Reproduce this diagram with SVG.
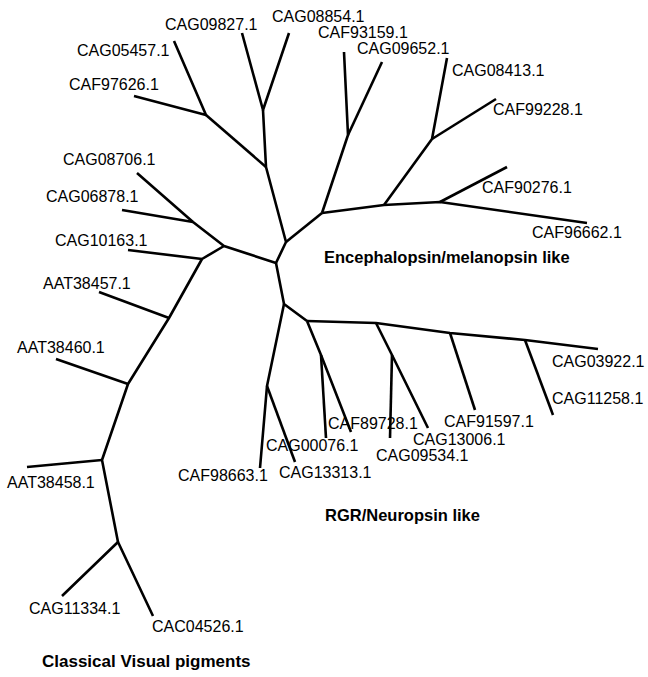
<svg xmlns="http://www.w3.org/2000/svg" width="648" height="677" viewBox="0 0 648 677">
<style>
.b{fill:none;stroke:#000;stroke-width:2.6;stroke-linejoin:round;stroke-linecap:butt}
.l{font-family:"Liberation Sans",Arial,sans-serif;font-size:16px;fill:#000}
.g{font-family:"Liberation Sans",Arial,sans-serif;font-size:16.5px;font-weight:bold;fill:#000}
</style>
<rect width="648" height="677" fill="#fff"/>
<g id="connectors">
<polyline class="b" points="242,33 263,110 289,33"/>
<polyline class="b" points="263,110 266,167 286,242 276,263"/>
<polyline class="b" points="174,41 206,115 134,96"/>
<polyline class="b" points="206,115 266,167"/>
<polyline class="b" points="286,242 322,213"/>
<polyline class="b" points="137,173 193,222 224,246 276,263"/>
<polyline class="b" points="122,210 193,222"/>
<polyline class="b" points="224,246 202,259 169,318 128,384 102,460 118,542"/>
<polyline class="b" points="128,250 202,259"/>
<polyline class="b" points="99,292 169,318"/>
<polyline class="b" points="56,359 128,384"/>
<polyline class="b" points="27,467 102,460"/>
<polyline class="b" points="62,596 118,542 153,616"/>
<polyline class="b" points="322,213 348,135 344,52"/>
<polyline class="b" points="348,135 382,62"/>
<polyline class="b" points="322,213 384,205 440,202 587,223"/>
<polyline class="b" points="384,205 432,139 447,58"/>
<polyline class="b" points="432,139 496,99"/>
<polyline class="b" points="440,202 507,167"/>
<polyline class="b" points="276,263 284,304 307,321"/>
<polyline class="b" points="284,304 267,386 260,468"/>
<polyline class="b" points="267,386 295,462"/>
<polyline class="b" points="307,321 321,355 351,432"/>
<polyline class="b" points="321,355 326,438"/>
<polyline class="b" points="307,321 376,323 450,333 525,340 598,349"/>
<polyline class="b" points="376,323 392,355 428,428"/>
<polyline class="b" points="392,355 390,438"/>
<polyline class="b" points="450,333 475,410"/>
<polyline class="b" points="525,340 553,415"/>
</g>
<g id="CAG09827"><text class="l" x="165" y="30">CAG09827.1</text></g>
<g id="CAG08854"><text class="l" x="272" y="22">CAG08854.1</text></g>
<g id="CAF93159"><text class="l" x="318" y="38">CAF93159.1</text></g>
<g id="CAG09652"><text class="l" x="357" y="54">CAG09652.1</text></g>
<g id="CAG08413"><text class="l" x="452" y="76">CAG08413.1</text></g>
<g id="CAF99228"><text class="l" x="493" y="115">CAF99228.1</text></g>
<g id="CAF90276"><text class="l" x="482" y="193">CAF90276.1</text></g>
<g id="CAF96662"><text class="l" x="532" y="238">CAF96662.1</text></g>
<g id="CAG05457"><text class="l" x="77" y="56">CAG05457.1</text></g>
<g id="CAF97626"><text class="l" x="69" y="90">CAF97626.1</text></g>
<g id="CAG08706"><text class="l" x="63" y="165">CAG08706.1</text></g>
<g id="CAG06878"><text class="l" x="46" y="202">CAG06878.1</text></g>
<g id="CAG10163"><text class="l" x="55" y="246">CAG10163.1</text></g>
<g id="AAT38457"><text class="l" x="43" y="289">AAT38457.1</text></g>
<g id="AAT38460"><text class="l" x="17" y="353">AAT38460.1</text></g>
<g id="AAT38458"><text class="l" x="7" y="488">AAT38458.1</text></g>
<g id="CAG11334"><text class="l" x="29" y="614">CAG11334.1</text></g>
<g id="CAC04526"><text class="l" x="152" y="632">CAC04526.1</text></g>
<g id="CAF98663"><text class="l" x="178" y="481">CAF98663.1</text></g>
<g id="CAG13313"><text class="l" x="279" y="478">CAG13313.1</text></g>
<g id="CAG00076"><text class="l" x="266" y="451">CAG00076.1</text></g>
<g id="CAF89728"><text class="l" x="328" y="429">CAF89728.1</text></g>
<g id="CAG09534"><text class="l" x="376" y="461">CAG09534.1</text></g>
<g id="CAG13006"><text class="l" x="413" y="445">CAG13006.1</text></g>
<g id="CAF91597"><text class="l" x="444" y="427">CAF91597.1</text></g>
<g id="CAG03922"><text class="l" x="552" y="367">CAG03922.1</text></g>
<g id="CAG11258"><text class="l" x="552" y="404">CAG11258.1</text></g>
<g id="group-enceph"><text class="g" x="324" y="263">Encephalopsin/melanopsin like</text></g>
<g id="group-rgr"><text class="g" x="325" y="521">RGR/Neuropsin like</text></g>
<g id="group-classical"><text class="g" x="42" y="667" style="font-size:17px">Classical Visual pigments</text></g>
</svg>
